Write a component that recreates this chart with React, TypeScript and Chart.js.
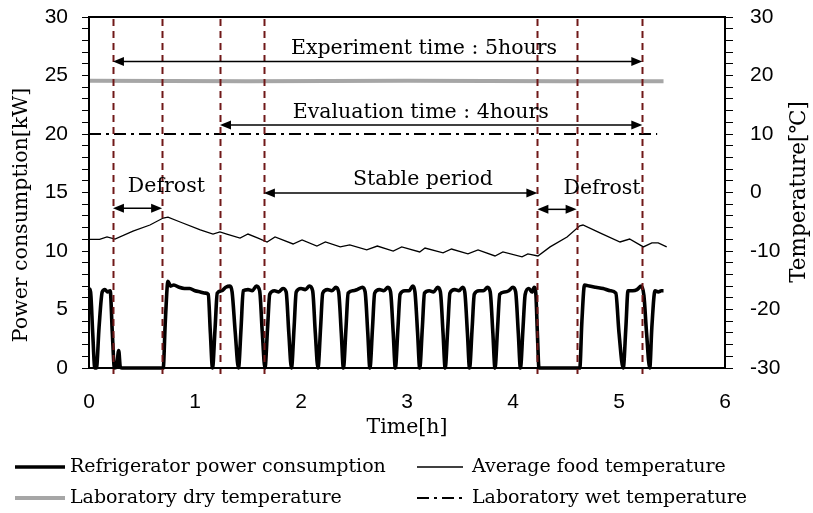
import React, { useEffect, useRef } from 'react';
import { Chart, registerables } from 'chart.js';

Chart.register(...registerables);

// ---------- data ----------
const powerTime = [
  0, 0.015, 0.035, 0.055, 0.07, 0.095, 0.125, 0.15, 0.175, 0.2, 0.22, 0.24, 0.26, 0.28, 0.295, 0.31, 0.7,
  0.72, 0.745, 0.77, 0.8, 0.85, 0.9, 0.95, 1.0, 1.05, 1.1, 1.125, 1.145, 1.165,
  1.19, 1.21, 1.25, 1.29, 1.33, 1.35, 1.38, 1.41,
  1.435, 1.455, 1.5, 1.54, 1.58, 1.61, 1.635, 1.66,
  1.685, 1.705, 1.75, 1.79, 1.83, 1.86, 1.885, 1.91,
  1.935, 1.955, 2.0, 2.04, 2.08, 2.11, 2.135, 2.16,
  2.185, 2.205, 2.25, 2.29, 2.33, 2.355, 2.38, 2.4,
  2.425, 2.445, 2.49, 2.53, 2.58, 2.605, 2.63, 2.65,
  2.675, 2.695, 2.74, 2.78, 2.82, 2.845, 2.87, 2.89,
  2.915, 2.935, 2.98, 3.02, 3.055, 3.075, 3.1, 3.12,
  3.145, 3.165, 3.21, 3.25, 3.29, 3.315, 3.34, 3.36,
  3.385, 3.405, 3.45, 3.49, 3.525, 3.545, 3.57, 3.59,
  3.615, 3.635, 3.68, 3.72, 3.76, 3.785, 3.81, 3.83,
  3.855, 3.875, 3.92, 3.96, 4.0, 4.025, 4.05, 4.07,
  4.095, 4.115, 4.15, 4.18, 4.2, 4.215, 4.23, 4.245,
  4.63, 4.65, 4.675, 4.72, 4.78, 4.85, 4.92, 4.97, 5.0, 5.04,
  5.065, 5.085, 5.13, 5.17, 5.21, 5.235, 5.26, 5.29,
  5.31, 5.34, 5.37, 5.4, 5.42,
];
const powerKW = [
  6.8, 6.5, 3.0, 0, 0, 3.5, 6.5, 6.7, 6.5, 6.6, 3.0, 0, 0.1, 1.5, 0.1, 0, 0,
  4.0, 7.4, 7.0, 7.1, 6.9, 6.8, 6.8, 6.6, 6.5, 6.4, 6.3, 3.0, 0,
  3.5, 6.4, 6.6, 6.9, 7.0, 6.5, 3.0, 0,
  3.5, 6.6, 6.7, 6.6, 7.0, 6.6, 3.0, 0,
  3.5, 6.3, 6.6, 6.5, 6.8, 6.5, 3.0, 0,
  3.5, 6.5, 6.8, 6.7, 7.0, 6.6, 3.0, 0,
  3.5, 6.4, 6.7, 6.6, 6.9, 6.5, 3.0, 0,
  3.5, 6.4, 6.6, 6.7, 6.9, 6.5, 3.0, 0,
  3.5, 6.4, 6.7, 6.6, 6.9, 6.5, 3.0, 0,
  3.5, 6.3, 6.6, 6.6, 7.0, 6.5, 3.0, 0,
  3.5, 6.4, 6.6, 6.5, 6.9, 6.5, 3.0, 0,
  3.5, 6.4, 6.7, 6.6, 6.9, 6.5, 3.0, 0,
  3.5, 6.3, 6.6, 6.6, 6.9, 6.5, 3.0, 0,
  3.5, 6.3, 6.5, 6.6, 6.9, 6.5, 3.0, 0,
  3.5, 6.3, 6.8, 6.5, 6.9, 6.4, 3.0, 0,
  0, 4.0, 7.1, 7.0, 6.9, 6.8, 6.6, 6.4, 3.0, 0,
  3.5, 6.6, 6.6, 6.7, 7.0, 6.2, 3.0, 0,
  3.5, 6.6, 6.5, 6.6, 6.6,
];

const foodTime = [
  0, 0.1, 0.17, 0.245, 0.415, 0.575, 0.7, 0.745, 0.86, 1.05, 1.17, 1.235, 1.3, 1.425, 1.5, 1.595,
  1.68, 1.755, 1.925, 2.01, 2.15, 2.23, 2.37, 2.46, 2.62, 2.72, 2.87, 2.95, 3.12, 3.17, 3.34, 3.42,
  3.575, 3.67, 3.83, 3.905, 4.085, 4.14, 4.235, 4.35, 4.51, 4.63, 4.66, 4.82, 5.01, 5.1, 5.23, 5.31,
  5.37, 5.45,
];
const foodTemp = [
  -8.0, -8.0, -7.6, -7.95, -6.6, -5.56, -4.36, -4.2, -5.04, -6.4, -7.1, -6.75, -7.1, -7.8, -7.1, -7.8,
  -8.46, -7.6, -8.8, -8.1, -9.15, -8.46, -9.3, -8.97, -9.8, -9.15, -10.0, -9.3, -10.17, -9.5, -10.3, -9.66,
  -10.5, -9.8, -10.85, -10.17, -11.0, -10.5, -10.85, -9.3, -7.6, -5.7, -5.56, -6.9, -8.46, -7.95, -9.3, -8.6,
  -8.6, -9.3,
];

const dryTime = [0, 1.5, 3.0, 4.5, 5.42];
const dryTemp = [19.1, 19.0, 19.1, 19.0, 19.0];
const wetTime = [0, 5.36];
const wetTemp = [10, 10];

const seriesLabels = [
  'Refrigerator power consumption',
  'Average food temperature',
  'Laboratory dry temperature',
  'Laboratory wet temperature',
];

const markerTimes = [0.226, 0.69, 1.236, 1.65, 4.23, 4.6, 5.22];

const spanLabels = ['Experiment time : 5hours', 'Evaluation time : 4hours', 'Stable period', 'Defrost', 'Defrost'];
const spanStart = [0.226, 1.236, 1.65, 0.226, 4.23];
const spanEnd = [5.22, 5.22, 4.23, 0.69, 4.6];
const spanLevel = [26.2, 20.77, 14.95, 13.65, 13.56];
const spanLabelX = [3.16, 3.13, 3.15, 0.73, 4.84];
const spanLabelLevel = [26.84, 21.37, 15.68, 15.04, 14.9];

const SERIF = '"DejaVu Serif", serif';
const SANS = '"Liberation Sans", Arial, sans-serif';

function pts(xs: number[], ys: number[]) {
  return xs.map((x, i) => ({ x, y: ys[i] }));
}

function arrowHead(ctx: CanvasRenderingContext2D, x: number, y: number, dir: number) {
  const len = 11;
  const hw = 4.5;
  ctx.beginPath();
  ctx.moveTo(x, y);
  ctx.lineTo(x - dir * len, y - hw);
  ctx.lineTo(x - dir * len, y + hw);
  ctx.closePath();
  ctx.fill();
}

const overlay = {
  id: 'overlay',
  afterDatasetsDraw(chart: any) {
    const { ctx, chartArea, scales } = chart;
    const xs = scales.x;
    const ys = scales.y;
    ctx.save();
    // vertical dashed markers
    ctx.strokeStyle = '#701818';
    ctx.lineWidth = 2;
    ctx.setLineDash([7, 5]);
    markerTimes.forEach((t) => {
      const px = Math.round(xs.getPixelForValue(t)) + 0.5;
      ctx.beginPath();
      ctx.moveTo(px, chartArea.top + 2);
      ctx.lineTo(px, chartArea.bottom + 8);
      ctx.stroke();
    });
    ctx.setLineDash([]);
    // arrows with labels
    ctx.strokeStyle = '#000';
    ctx.fillStyle = '#000';
    ctx.lineWidth = 1.5;
    spanLabels.forEach((label, i) => {
      const a = xs.getPixelForValue(spanStart[i]);
      const b = xs.getPixelForValue(spanEnd[i]);
      const py = ys.getPixelForValue(spanLevel[i]);
      ctx.beginPath();
      ctx.moveTo(a + 4, py);
      ctx.lineTo(b - 4, py);
      ctx.stroke();
      arrowHead(ctx, a, py, -1);
      arrowHead(ctx, b, py, 1);
      ctx.font = `20.5px ${SERIF}`;
      ctx.textAlign = 'center';
      ctx.textBaseline = 'alphabetic';
      ctx.fillText(label, xs.getPixelForValue(spanLabelX[i]), ys.getPixelForValue(spanLabelLevel[i]));
    });
    ctx.restore();
  },
  afterDraw(chart: any) {
    const { ctx, chartArea } = chart;
    ctx.save();
    // frame
    ctx.strokeStyle = '#000';
    ctx.lineWidth = 2;
    ctx.strokeRect(chartArea.left, chartArea.top, chartArea.right - chartArea.left, chartArea.bottom - chartArea.top);
    // axis titles
    ctx.fillStyle = '#000';
    ctx.textAlign = 'center';
    ctx.textBaseline = 'middle';
    ctx.font = `20.5px ${SERIF}`;
    ctx.fillText('Time[h]', (chartArea.left + chartArea.right) / 2, 428);
    ctx.save();
    ctx.translate(22, 215);
    ctx.rotate(-Math.PI / 2);
    ctx.fillText('Power consumption[kW]', 0, 0);
    ctx.restore();
    ctx.save();
    ctx.font = `21.5px ${SERIF}`;
    ctx.translate(799, 192);
    ctx.rotate(-Math.PI / 2);
    ctx.fillText('Temperature[℃]', 0, 0);
    ctx.restore();
    // legend
    const sampleX = [15, 417];
    const sampleLen = [50, 46];
    const textX = [70, 472];
    const rowY = [467, 498];
    chart.data.datasets.forEach((ds: any, i: number) => {
      const col = i % 2;
      const row = Math.floor(i / 2);
      const y = rowY[row];
      ctx.strokeStyle = ds.borderColor;
      ctx.lineWidth = ds.borderWidth;
      ctx.setLineDash(ds.borderDash || []);
      ctx.beginPath();
      ctx.moveTo(sampleX[col], y);
      ctx.lineTo(sampleX[col] + sampleLen[col], y);
      ctx.stroke();
      ctx.setLineDash([]);
      ctx.fillStyle = '#000';
      ctx.textAlign = 'left';
      ctx.textBaseline = 'middle';
      ctx.font = `19px ${SERIF}`;
      ctx.fillText(ds.label, textX[col], y);
    });
    ctx.restore();
  },
};

export default function App() {
  const ref = useRef<HTMLCanvasElement | null>(null);
  useEffect(() => {
    if (!ref.current) return;
    const chart = new Chart(ref.current, {
      type: 'line',
      data: {
        datasets: [
          {
            label: seriesLabels[0],
            data: pts(powerTime, powerKW),
            yAxisID: 'y',
            borderColor: '#000000',
            borderWidth: 3.6,
            pointRadius: 0,
            cubicInterpolationMode: 'monotone',
            clip: 6,
          },
          {
            label: seriesLabels[1],
            data: pts(foodTime, foodTemp),
            yAxisID: 'y1',
            borderColor: '#000000',
            borderWidth: 1.3,
            pointRadius: 0,
            tension: 0,
          },
          {
            label: seriesLabels[2],
            data: pts(dryTime, dryTemp),
            yAxisID: 'y1',
            borderColor: '#a6a6a6',
            borderWidth: 4,
            pointRadius: 0,
            tension: 0,
          },
          {
            label: seriesLabels[3],
            data: pts(wetTime, wetTemp),
            yAxisID: 'y1',
            borderColor: '#000000',
            borderWidth: 2,
            borderDash: [12, 5, 3, 5],
            pointRadius: 0,
            tension: 0,
          },
        ] as any,
      },
      options: {
        responsive: false,
        animation: false,
        events: [],
        layout: { padding: { top: 17, left: 0, right: 0, bottom: 0 } },
        plugins: { legend: { display: false }, tooltip: { enabled: false } },
        scales: {
          x: {
            type: 'linear',
            min: 0,
            max: 6,
            grid: { display: false },
            border: { display: true, color: '#000', width: 2 },
            ticks: {
              stepSize: 1,
              padding: 14,
              color: '#000',
              font: { family: SANS, size: 21 },
            },
            afterFit: (s: any) => {
              s.height = 145;
              s.paddingLeft = 0;
              s.paddingRight = 0;
            },
          },
          y: {
            type: 'linear',
            position: 'left',
            min: 0,
            max: 30,
            grid: { drawOnChartArea: false, tickLength: 7, color: '#000', tickWidth: 1 },
            border: { display: true, color: '#000', width: 2 },
            ticks: {
              stepSize: 1,
              maxTicksLimit: 100,
              autoSkip: false,
              padding: 14,
              color: '#000',
              font: { family: SANS, size: 21 },
              callback: (v: any) => (Number(v) % 5 === 0 ? String(v) : ''),
            },
            afterFit: (s: any) => {
              s.width = 89;
              s.paddingTop = 0;
              s.paddingBottom = 0;
            },
          },
          y1: {
            type: 'linear',
            position: 'right',
            min: -30,
            max: 30,
            grid: { drawOnChartArea: false, tickLength: 8, color: '#000', tickWidth: 1 },
            border: { display: true, color: '#000', width: 2 },
            ticks: {
              stepSize: 2,
              maxTicksLimit: 100,
              autoSkip: false,
              padding: 17,
              color: '#000',
              font: { family: SANS, size: 21 },
              callback: (v: any) => (Number(v) % 10 === 0 ? String(v) : ''),
            },
            afterFit: (s: any) => {
              s.width = 88;
              s.paddingTop = 0;
              s.paddingBottom = 0;
            },
          },
        },
      } as any,
      plugins: [overlay],
    });
    return () => chart.destroy();
  }, []);
  return (
    <div style={{ position: 'absolute', left: 0, top: 0, width: 813, height: 513, background: '#fff' }}>
      <canvas ref={ref} width={813} height={513} />
    </div>
  );
}
